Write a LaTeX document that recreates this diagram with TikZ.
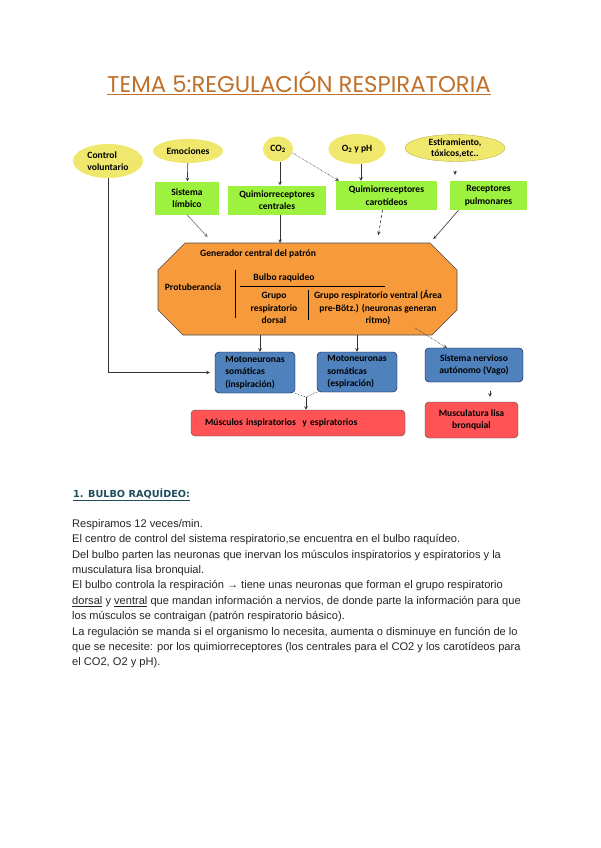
\documentclass[tikz,border=0pt]{standalone}
\usepackage{fontspec}
\setmainfont{Liberation Sans}
\newfontfamily\diafont{Carlito}
\newfontfamily\titfont{Poppins}
\newfontfamily\headfont{DejaVu Sans}
\usetikzlibrary{shapes.geometric}
\definecolor{elicolor}{HTML}{F0E86C}
\definecolor{recepcolor}{HTML}{9CF23E}
\definecolor{gencolor}{HTML}{F79A3C}
\definecolor{motocolor}{HTML}{4F81BD}
\definecolor{musccolor}{HTML}{FF5356}
\definecolor{titcolor}{HTML}{C0702A}
\definecolor{headcolor}{HTML}{1F4E5F}
\newcommand\dfont{\diafont\bfseries\fontsize{9.6}{12.5}\selectfont}
\tikzset{
	elli/.style={ellipse,fill=elicolor,inner sep=0pt,font=\dfont,align=center},
	recep/.style={rectangle,fill=recepcolor,inner sep=0pt,font=\dfont,align=center},
	gen/.style={fill=gencolor,draw=black!70,line width=0.6pt},
	gtext/.style={inner sep=0pt,font=\dfont,align=center},
	moto/.style={rectangle,rounded corners=4pt,fill=motocolor,draw=black!75!blue,inner sep=0pt,font=\dfont,align=left},
	musc/.style={rectangle,rounded corners=4pt,fill=musccolor,draw=black!70,inner sep=0pt,font=\dfont,align=center},
	flecha/.style={->,black!80,line width=0.6pt},
	flechag/.style={->,black!55,line width=0.6pt},
	puntos/.style={->,black!80,line width=0.6pt,densely dotted},
	rayas/.style={->,black!80,line width=0.6pt,densely dashed},
	>=stealth,
	}
\begin{document}
\begin{tikzpicture}[x=1pt,y=-1pt]
\fill[white] (0,0) rectangle (600,848);
\useasboundingbox (0,0) rectangle (600,848);

\node (tit) at (299,83) [text=titcolor,font=\titfont\fontsize{22.8}{26}\selectfont] {\underline{TEMA 5:REGULACIÓN RESPIRATORIA}};

% estimulos
\node (cv) at (108,161) [elli,minimum width=70pt,minimum height=34pt,align=left] {Control\\voluntario};
\node (emo) at (188,151) [elli,minimum width=70pt,minimum height=24pt] {Emociones};
\node (co2) at (278,149) [elli,minimum width=30pt,minimum height=25pt] {CO\textsubscript{2}};
\node (o2) at (357,149) [elli,minimum width=57pt,minimum height=30pt] {O\textsubscript{2} y pH};
\node (est) at (455,148) [elli,draw=olive!60,font=\diafont\bfseries\fontsize{9.6}{11}\selectfont,minimum width=100pt,minimum height=25pt] {Estiramiento,\\tóxicos,etc..};

% receptores
\node (lim) at (187,198) [recep,minimum width=64pt,minimum height=33pt] {Sistema\\límbico};
\node (qc) at (277,200) [recep,minimum width=98pt,minimum height=29pt] {Quimiorreceptores\\centrales};
\node (qca) at (386.5,195.5) [recep,minimum width=101pt,minimum height=29pt] {Quimiorreceptores\\carotídeos};
\node (rp) at (488.5,195.5) [recep,minimum width=77pt,minimum height=29pt] {Receptores\\pulmonares};

% generador central
\draw[gen] (185,243) -- (430,243) -- (457,270) -- (457,310) -- (432,335)
  -- (183,335) -- (158,310) -- (158,270) -- cycle;
\node (gtit) at (200,254) [gtext,anchor=west] {Generador central del patrón};
\node (prot) at (193,287) [gtext] {Protuberancia};
\node (bulbo) at (284,278) [gtext] {Bulbo raquideo};
\node (dors) at (274,308) [gtext] {Grupo\\respiratorio\\dorsal};
\node (vent) at (378,308) [gtext] {Grupo respiratorio ventral (Área\\pre-Bötz.) (neuronas generan\\ritmo)};
\draw[line width=0.8pt] (235,270) -- (235,318);
\draw[line width=0.8pt] (240,286) -- (385,286);
\draw[line width=0.8pt] (308,290) -- (308,320);
\coordinate (gt1) at (213,243);
\coordinate (gt2) at (280,243);
\coordinate (gt3) at (377,243);
\coordinate (gt4) at (430,243);
\coordinate (gs1) at (260,335);
\coordinate (gs2) at (357,335);
\coordinate (gs3) at (415,328);

% efectores
\node (m1) at (255,372.5) [moto,minimum width=80pt,minimum height=41pt] {Motoneuronas\\somáticas\\(inspiración)};
\node (m2) at (357,372) [moto,minimum width=80pt,minimum height=40pt] {Motoneuronas\\somáticas\\(espiración)};
\node (sna) at (474,365) [moto,align=center,minimum width=98pt,minimum height=34pt] {Sistema nervioso\\autónomo (Vago)};
\node (mus) at (298,423) [musc,minimum width=214pt,minimum height=26pt,text width=186pt,align=left] {Músculos inspiratorios~~y espiratorios};
\node (mlb) at (471.5,420) [musc,minimum width=93pt,minimum height=36pt] {Musculatura lisa\\bronquial};
\coordinate (jn) at (306,397);

% conexiones
\draw[flecha] (emo) -- (lim);
\draw[flecha] ([xshift=2pt]co2.south) -- (qc.north -| gt2);
\draw[flecha] ([xshift=4pt]o2.south) -- ([xshift=4pt]qca.north -| o2.south);
\draw[puntos] (co2.-15) -- ([xshift=3pt]qca.north west);
\draw[flecha,shorten <=9pt,shorten >=6pt] (est.south) -- (rp.north -| est.south);
\draw[flechag,shorten >=8pt] (lim.south) -- (gt1);
\draw[flecha] (qc.south -| gt2) -- (gt2);
\draw[rayas,shorten >=8pt] ([xshift=-4pt]qca.south) -- (gt3);
\draw[flecha,shorten >=5pt] ([xshift=-30pt]rp.south) -- (gt4);
\draw[flecha] (gs1) -- (m1.north -| gs1);
\draw[flecha] (gs2) -- (m2.north -| gs2);
\draw[puntos] (gs3) -- ([xshift=22pt]sna.north west);
\draw[flecha,shorten >=5pt] (cv.south) |- (m1.west);
\draw[densely dotted,black!80,line width=0.6pt] (m1.south east) -- (jn) -- (m2.south west);
\draw[flecha] (jn) -- (mus.north -| jn);
\draw[flecha,shorten <=9pt,shorten >=5pt] ([xshift=16pt]sna.south) -- ([xshift=16pt]sna.south |- mlb.north);

% texto
\node (head) at (73,495) [anchor=west,inner sep=0pt,text=headcolor,font=\headfont\bfseries\fontsize{9.7}{12}\selectfont] {\underline{1. BULBO RAQUÍDEO:}};
\node (body) at (72,519) [anchor=north west,inner sep=0pt,align=left,text=black!85,font=\fontsize{11.1}{15.4}\selectfont] {Respiramos 12 veces/min.\\
El centro de control del sistema respiratorio,se encuentra en el bulbo raquídeo.\\
Del bulbo parten las neuronas que inervan los músculos inspiratorios y espiratorios y la\\
musculatura lisa bronquial.\\
El bulbo controla la respiración → tiene unas neuronas que forman el grupo respiratorio\\
\underline{dorsal} y \underline{ventral} que mandan información a nervios, de donde parte la información para que\\
los músculos se contraigan (patrón respiratorio básico).\\
La regulación se manda si el organismo lo necesita, aumenta o disminuye en función de lo\\
que se necesite: por los quimiorreceptores (los centrales para el CO2 y los carotídeos para\\
el CO2, O2 y pH).};
\end{tikzpicture}
\end{document}
